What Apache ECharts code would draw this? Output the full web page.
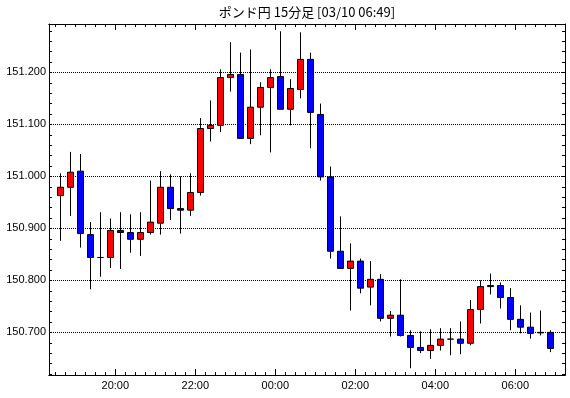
<!DOCTYPE html>
<html><head><meta charset="utf-8">
<script src="https://cdn.jsdelivr.net/npm/echarts@6/dist/echarts.min.js"></script>
<style>html,body{margin:0;padding:0;background:#fff}#c{width:570px;height:398px}</style>
</head><body><div id="c"></div>
<script>
const titleText = 'ポンド円 15分足 [03/10 06:49]';
const times = ['18:30','18:45','19:00','19:15','19:30','19:45','20:00','20:15','20:30','20:45',
  '21:00','21:15','21:30','21:45','22:00','22:15','22:30','22:45','23:00','23:15',
  '23:30','23:45','00:00','00:15','00:30','00:45','01:00','01:15','01:30','01:45',
  '02:00','02:15','02:30','02:45','03:00','03:15','03:30','03:45','04:00','04:15',
  '04:30','04:45','05:00','05:15','05:30','05:45','06:00','06:15','06:30','06:45'];
const opens = [150.963,150.979,151.010,150.888,150.844,150.844,150.896,150.892,150.879,150.892,
  150.910,150.979,150.938,150.935,150.969,151.092,151.098,151.190,151.196,151.073,
  151.133,151.171,151.192,151.129,151.167,151.225,151.119,150.999,150.856,150.823,
  150.837,150.787,150.802,150.727,150.733,150.694,150.671,150.665,150.675,150.687,
  150.687,150.679,150.744,150.790,150.790,150.767,150.725,150.710,150.700,150.700];
const closes = [150.979,151.008,150.890,150.844,150.844,150.896,150.892,150.879,150.892,150.912,
  150.979,150.938,150.935,150.969,151.092,151.098,151.190,151.196,151.073,151.133,
  151.171,151.190,151.129,151.169,151.225,151.123,150.999,150.856,150.823,150.837,
  150.785,150.802,150.727,150.733,150.694,150.671,150.665,150.675,150.687,150.687,
  150.679,150.744,150.788,150.788,150.767,150.725,150.710,150.698,150.699,150.669];
const lows = [150.876,150.924,150.863,150.783,150.807,150.824,150.822,150.853,150.847,150.888,
  150.888,150.916,150.890,150.924,150.963,151.067,151.085,151.163,151.073,151.062,
  151.079,151.046,151.129,151.098,151.150,151.054,150.992,150.842,150.823,150.742,
  150.775,150.752,150.721,150.692,150.692,150.631,150.660,150.649,150.665,150.656,
  150.658,150.675,150.717,150.773,150.746,150.704,150.698,150.688,150.694,150.662];
const highs = [151.006,151.047,151.043,150.912,150.931,150.919,150.931,150.927,150.931,150.992,
  151.010,151.004,151.000,151.006,151.112,151.146,151.206,151.258,151.238,151.244,
  151.181,151.206,151.279,151.187,151.277,151.238,151.140,151.019,150.923,150.871,
  150.842,150.837,150.812,150.741,150.802,150.704,150.702,150.706,150.708,150.708,
  150.721,150.762,150.800,150.813,150.796,150.785,150.752,150.738,150.742,150.704];
const xTickLabels = ['20:00','22:00','00:00','02:00','04:00','06:00'];
const yTickLabels = [150.7,150.8,150.9,151.0,151.1,151.2];
const yMin = 150.618, yMax = 151.293;

const xMajor = xTickLabels.map(t => times.indexOf(t));
const xMinor = times.map((t, i) => i).concat([times.length]);
const yMinor = [];
for (let k = 31; k <= 64; k++) yMinor.push(+(k * 0.02 + 150).toFixed(2));

const candleData = times.map((t, i) => [i + 0.5, opens[i], closes[i], lows[i], highs[i]]);

const xBase = {type: 'value', min: -0.63, max: 50.97, splitLine: {show: false},
  axisLine: {show: true, onZero: false, lineStyle: {color: '#000', width: 1}},
  axisLabel: {show: false}};
const tickStyle = {color: '#000', width: 1};
const labelFont = {color: '#000', fontSize: 11, fontFamily: '"Liberation Sans", Arial, sans-serif'};

const chart = echarts.init(document.getElementById('c'), null, {renderer: 'canvas'});
chart.setOption({
  animation: false,
  backgroundColor: '#fff',
  graphic: [{type: 'text', x: 307, y: 12, style: {text: titleText, textAlign: 'center', textVerticalAlign: 'middle',
    fill: '#000', font: '13px "Noto Sans CJK JP", sans-serif'}}],
  grid: {left: 49, right: 5, top: 24, bottom: 23, containLabel: false},
  xAxis: [
    Object.assign({}, xBase, {position: 'bottom', axisTick: {show: true, inside: true, length: 3, customValues: xMinor, lineStyle: tickStyle}}),
    Object.assign({}, xBase, {position: 'bottom', axisTick: {show: true, inside: true, length: 6, customValues: xMajor, lineStyle: tickStyle},
      axisLabel: Object.assign({show: true, margin: 5, customValues: xMajor, formatter: v => xTickLabels[xMajor.indexOf(Math.round(v))] || ''}, labelFont)}),
    Object.assign({}, xBase, {position: 'top', axisTick: {show: true, inside: true, length: 3, customValues: xMinor, lineStyle: tickStyle}}),
    Object.assign({}, xBase, {position: 'top', axisTick: {show: true, inside: true, length: 6, customValues: xMajor, lineStyle: tickStyle}})
  ],
  yAxis: [
    {type: 'value', min: yMin, max: yMax, position: 'left', splitLine: {show: false},
      axisLine: {show: true, onZero: false, lineStyle: {color: '#000', width: 1}},
      axisTick: {show: true, inside: true, length: 3, customValues: yMinor, lineStyle: tickStyle},
      axisLabel: Object.assign({show: true, margin: 3, customValues: yTickLabels, formatter: v => v.toFixed(3)}, labelFont)},
    {type: 'value', min: yMin, max: yMax, position: 'right', splitLine: {show: false},
      axisLine: {show: true, onZero: false, lineStyle: {color: '#000', width: 1}},
      axisTick: {show: true, inside: true, length: 3, customValues: yMinor, lineStyle: tickStyle},
      axisLabel: {show: false}}
  ],
  series: [{
    type: 'candlestick', xAxisIndex: 0, yAxisIndex: 0, z: 3,
    barWidth: 7,
    data: candleData,
    itemStyle: {color: '#ff0000', color0: '#0000ff', borderColor: '#000', borderColor0: '#000', borderColorDoji: '#000', borderWidth: 1},
    markLine: {silent: true, symbol: 'none', z: 1, label: {show: false},
      lineStyle: {color: '#000', width: 1, type: [1, 1]},
      data: yTickLabels.map(v => ({yAxis: v}))}
  }]
});
</script></body></html>
